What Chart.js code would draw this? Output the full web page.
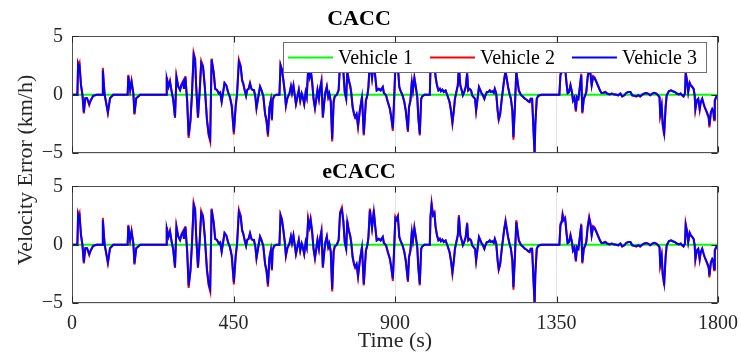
<!DOCTYPE html>
<html>
<head>
<meta charset="utf-8">
<script src="https://cdn.jsdelivr.net/npm/chart.js@4.4.1/dist/chart.umd.min.js"></script>
<style>
    html, body { margin: 0; padding: 0; background: #fff; }
    #wrap { position: relative; width: 741px; height: 354px; }
    #wrap canvas { position: absolute; left: 0; top: 0; }
</style>
</head>
<body>
<div id="wrap">
    <canvas id="caccChart" width="741" height="354"></canvas>
    <canvas id="ecaccChart" width="741" height="354"></canvas>
</div>
<script>
// sample times (s), shared by every follower trace
const time = [
    0, 15, 17, 19, 21, 25, 29, 33, 37, 42,
    48, 52, 59, 69, 84, 86, 88, 91, 100, 106,
    115, 155, 157, 162, 166, 171, 174, 179, 190, 262,
    264, 269, 273, 278, 282, 287, 291, 296, 301, 305,
    310, 312, 316, 321, 325, 330, 334, 339, 343, 346,
    351, 356, 360, 365, 370, 376, 381, 385, 389, 395,
    399, 404, 409, 413, 417, 421, 425, 430, 435, 440,
    445, 451, 456, 460, 465, 470, 474, 477, 481, 485,
    488, 492, 496, 500, 503, 507, 511, 514, 519, 524,
    528, 533, 538, 542, 546, 550, 554, 557, 559, 563,
    570, 578, 581, 585, 589, 593, 596, 600, 606, 610,
    613, 617, 621, 624, 628, 632, 636, 640, 643, 647,
    651, 654, 658, 662, 665, 669, 673, 677, 680, 684,
    688, 691, 695, 699, 703, 706, 710, 714, 717, 721,
    725, 729, 732, 738, 743, 747, 752, 756, 760, 764,
    767, 771, 775, 778, 782, 786, 789, 793, 797, 802,
    808, 813, 819, 823, 826, 830, 836, 841, 845, 849,
    855, 860, 866, 869, 875, 880, 886, 890, 894, 897,
    901, 904, 908, 912, 915, 921, 926, 930, 936, 939,
    943, 947, 950, 954, 958, 962, 965, 969, 973, 976,
    982, 997, 999, 1002, 1006, 1010, 1013, 1017, 1021, 1025,
    1028, 1032, 1036, 1041, 1047, 1052, 1056, 1060, 1064, 1067,
    1071, 1075, 1078, 1082, 1086, 1089, 1093, 1097, 1101, 1104,
    1108, 1112, 1115, 1119, 1123, 1126, 1130, 1134, 1138, 1141,
    1145, 1149, 1152, 1156, 1160, 1164, 1167, 1171, 1175, 1178,
    1182, 1186, 1189, 1193, 1197, 1201, 1204, 1208, 1212, 1215,
    1219, 1223, 1227, 1230, 1234, 1238, 1241, 1245, 1249, 1252,
    1256, 1262, 1267, 1271, 1275, 1278, 1282, 1286, 1289, 1291,
    1295, 1299, 1308, 1358, 1361, 1365, 1367, 1370, 1374, 1378,
    1381, 1385, 1389, 1393, 1396, 1400, 1404, 1407, 1411, 1415,
    1419, 1422, 1426, 1430, 1433, 1437, 1441, 1445, 1448, 1452,
    1456, 1459, 1463, 1467, 1471, 1475, 1480, 1486, 1491, 1498,
    1504, 1509, 1517, 1522, 1528, 1533, 1539, 1544, 1550, 1556,
    1561, 1567, 1572, 1578, 1583, 1589, 1595, 1600, 1605, 1611,
    1617, 1622, 1628, 1633, 1637, 1639, 1643, 1646, 1650, 1654,
    1657, 1663, 1669, 1674, 1680, 1685, 1691, 1696, 1700, 1704,
    1708, 1710, 1713, 1717, 1721, 1724, 1728, 1732, 1735, 1737,
    1741, 1745, 1749, 1752, 1756, 1760, 1763, 1767, 1771, 1774,
    1776, 1780, 1784, 1787, 1789, 1791, 1795, 1797, 1800
];

// leader keeps zero error over the whole run
const leaderTime = [0, 1800];
const vehicle1 = [0, 0];

// CACC, vehicle 2 (km/h)
const caccV2 = [
    0, 0, 2.7, 2.5, 2.7, 0.9, 0, -1.6, -0.3, -0.3,
    -0.9, -0.5, -0.1, 0, 0, 2.3, 1.3, 0, -1.6, -0.3,
    0, 0, 1.7, 0.4, 1.2, 0.1, -1.7, -0.3, 0, 0,
    1.5, 0.7, 1.2, 0.2, -0.4, -2.0, 1.6, 0.7, 0.4, 0.9,
    1.2, 0.5, 1.6, -0.6, -3.7, -2.3, -0.1, 3.6, 3.1, 0.7,
    -2.0, 0.4, 2.9, 2.5, 0.7, -2.2, -3.5, -4.0, 3.1, 1.9,
    0.5, 0.4, 0.1, 0.2, -0.6, 0.2, 1.0, 0.8, 0.2, -0.2,
    -1.0, -3.4, -1.0, 0.1, 3.0, 2.5, 1.3, 1.0, 0.4, -0.1,
    0.4, 0.5, 1.0, 0.5, 0.4, 0.4, -0.2, -1.2, -0.2, 0.7,
    0.4, -0.1, -1.7, -2.3, -3.6, -1.2, -0.5, -2.2, -0.5, -0.1,
    0, 0, 2.6, 2.2, 1.3, 0.2, -1.0, -0.3, 0.1, 0.7,
    0.15, 0.8, -0.1, -0.8, -0.2, 0.4, -0.5, 0.1, -0.2, -0.8,
    0.2, -0.2, 2.3, 1.6, 2.2, 1.2, -0.35, -1.2, -0.5, 0.4,
    -0.35, 0.5, 1.2, -2.0, -0.6, 0.2, 0.7, -0.2, 0.1, -0.6,
    -4.0, -0.6, -0.15, 0, 0.4, 2.8, 3.2, 2.1, 0.2, -0.35,
    2.1, 1.3, 0.8, 0.2, -1.1, -1.75, -2.0, -1.75, -2.8, -1.4,
    -0.2, -3.5, -0.5, -0.05, 0.66, 3.1, 1.5, 3.0, 1.6, 0.37,
    0.5, 0.37, 0.66, 0.15, -0.05, -0.63, -1.3, -2.1, -3.1, -0.8,
    2.4, 2.2, 2.5, 0.66, 0.37, -0.05, -0.63, -1.4, -3.2, -1.1,
    -0.5, 1.2, 0.37, 1.5, 0.66, -0.2, -2.0, -3.5, -0.35, -0.15,
    0, 0, 2.5, 3.6, 2.6, 2.8, 1.6, 0.8, 0.37, 0.5,
    0.3, 0.43, 0.23, 0.37, -0.15, -0.63, -1.4, -2.5, -1.4, -0.35,
    0.23, 0.8, 2.55, 0.8, 0.37, -0.05, 0.23, 0.66, 1.9, 0.37,
    0.5, 0.37, -0.05, -0.2, -0.35, -1.4, -0.35, 0.66, 0.37, 0.15,
    -0.05, -0.35, -0.05, 0.23, 0.23, 0.37, 0.23, 0.3, 0.15, 0.5,
    0.1, -1.4, -2.2, -1.75, -0.5, 0.5, 1.3, 2.1, 1.3, 0.66,
    0.1, -0.35, -1.4, -3.85, -1.1, 2.1, 1.3, 0.37, 0.1, -0.05,
    -0.15, -0.35, -0.43, -0.55, -0.63, -0.35, -0.35, -3.2, -5.2, -2.6,
    -0.35, -0.1, 0, 0, 1.8, 2.1, 2.65, 2.2, 2.35, 1.0,
    0.15, 0.23, 0.85, 0.23, -0.5, -0.25, -1.45, -0.2, -0.35, 0.66,
    1.8, -1.6, -0.35, -0.05, 0.23, 1.6, 2.4, 1.8, 0.85, 1.6,
    1.5, 1.3, 1.0, 0.7, 0.37, 0.17, 0.15, 0.23, 0.1, 0.03,
    0.1, 0.03, 0, -0.05, 0.1, -0.15, -0.05, 0.15, 0.23, 0.23,
    -0.05, -0.1, -0.15, -0.05, -0.15, 0, 0.1, 0.15, 0.1, -0.05,
    0.1, 0.17, 0.1, -0.05, -0.2, -1.75, -1.0, -2.65, -3.5, -1.1,
    -0.05, 0.3, 0.37, 0.3, 0.23, 0.1, 0.03, 0.1, -0.05, -0.15,
    0.1, 1.95, 1.4, 0.23, 1.05, 0.85, 0.7, 0.5, -0.05, -1.3,
    -0.5, -0.35, -1.3, -0.63, -0.35, -0.8, -1.1, -1.4, -1.75, -2.0,
    -2.8, -1.6, -1.3, -1.45, -2.2, -0.5, -0.2, -0.15, -0.1
];

// CACC, vehicle 3 (km/h)
const caccV3 = [
    0, 0, 2.6, 2.4, 2.5, 0.8, 0, -1.5, -0.3, -0.3,
    -0.8, -0.5, -0.1, 0, 0, 2.1, 1.2, 0, -1.5, -0.3,
    0, 0, 1.6, 0.4, 1.1, 0.1, -1.6, -0.3, 0, 0,
    1.4, 0.7, 1.1, 0.2, -0.4, -1.9, 1.5, 0.7, 0.4, 0.8,
    1.1, 0.5, 1.5, -0.6, -3.5, -2.2, -0.1, 3.4, 3.0, 0.7,
    -1.9, 0.4, 2.7, 2.4, 0.7, -2.1, -3.4, -3.8, 3.0, 1.8,
    0.5, 0.4, 0.1, 0.2, -0.6, 0.2, 1.0, 0.8, 0.2, -0.2,
    -0.9, -3.2, -1.0, 0.1, 2.8, 2.4, 1.2, 0.95, 0.4, -0.1,
    0.4, 0.5, 0.95, 0.5, 0.4, 0.4, -0.2, -1.1, -0.2, 0.7,
    0.4, -0.1, -1.6, -2.2, -3.4, -1.1, -0.5, -2.1, -0.5, -0.1,
    0, 0, 2.5, 2.1, 1.2, 0.2, -0.9, -0.3, 0.1, 0.7,
    0.15, 0.8, -0.1, -0.8, -0.2, 0.4, -0.5, 0.1, -0.2, -0.8,
    0.2, -0.2, 2.1, 1.5, 2.1, 1.1, -0.35, -1.1, -0.5, 0.4,
    -0.35, 0.5, 1.1, -1.9, -0.6, 0.2, 0.7, -0.2, 0.1, -0.6,
    -3.8, -0.6, -0.15, 0, 0.4, 2.7, 3.0, 2.0, 0.2, -0.35,
    1.95, 1.24, 0.8, 0.2, -1.06, -1.64, -1.9, -1.64, -2.64, -1.35,
    -0.2, -3.36, -0.5, -0.05, 0.66, 2.96, 1.4, 2.8, 1.5, 0.37,
    0.5, 0.37, 0.66, 0.15, -0.05, -0.63, -1.2, -2.0, -2.9, -0.8,
    2.24, 2.1, 2.4, 0.66, 0.37, -0.05, -0.63, -1.35, -3.07, -1.06,
    -0.5, 1.1, 0.37, 1.4, 0.66, -0.2, -1.9, -3.36, -0.35, -0.15,
    0, 0, 2.4, 3.4, 2.5, 2.67, 1.5, 0.8, 0.37, 0.5,
    0.3, 0.43, 0.23, 0.37, -0.15, -0.63, -1.35, -2.36, -1.35, -0.35,
    0.23, 0.8, 2.4, 0.8, 0.37, -0.05, 0.23, 0.66, 1.8, 0.37,
    0.5, 0.37, -0.05, -0.2, -0.35, -1.35, -0.35, 0.66, 0.37, 0.15,
    -0.05, -0.35, -0.05, 0.23, 0.23, 0.37, 0.23, 0.3, 0.15, 0.5,
    0.1, -1.35, -2.07, -1.64, -0.5, 0.5, 1.24, 1.95, 1.24, 0.66,
    0.1, -0.35, -1.35, -3.65, -1.06, 1.95, 1.24, 0.37, 0.1, -0.05,
    -0.15, -0.35, -0.43, -0.55, -0.63, -0.35, -0.35, -3.07, -5.0, -2.5,
    -0.35, -0.1, 0, 0, 1.67, 1.95, 2.5, 2.1, 2.24, 0.95,
    0.15, 0.23, 0.8, 0.23, -0.5, -0.25, -1.35, -0.2, -0.35, 0.66,
    1.67, -1.5, -0.35, -0.05, 0.23, 1.5, 2.24, 1.67, 0.8, 1.5,
    1.4, 1.24, 0.95, 0.66, 0.37, 0.17, 0.15, 0.23, 0.1, 0.03,
    0.1, 0.03, 0, -0.05, 0.1, -0.15, -0.05, 0.15, 0.23, 0.23,
    -0.05, -0.1, -0.15, -0.05, -0.15, 0, 0.1, 0.15, 0.1, -0.05,
    0.1, 0.17, 0.1, -0.05, -0.2, -1.64, -0.92, -2.5, -3.3, -1.06,
    -0.05, 0.3, 0.37, 0.3, 0.23, 0.1, 0.03, 0.1, -0.05, -0.15,
    0.1, 1.8, 1.3, 0.23, 1.0, 0.8, 0.66, 0.5, -0.05, -1.2,
    -0.5, -0.35, -1.2, -0.63, -0.35, -0.78, -1.06, -1.35, -1.64, -1.9,
    -2.64, -1.5, -1.2, -1.35, -2.07, -0.5, -0.2, -0.15, -0.1
];

// eCACC, vehicle 2 (km/h)
const ecaccV2 = [
    0, 0, 2.7, 2.5, 2.7, 0.9, 0, -1.6, -0.3, -0.3,
    -0.9, -0.5, -0.1, 0, 0, 2.3, 1.3, 0, -1.6, -0.3,
    0, 0, 1.7, 0.4, 1.2, 0.1, -1.7, -0.3, 0, 0,
    1.5, 0.7, 1.2, 0.2, -0.4, -2.0, 1.6, 0.7, 0.4, 0.9,
    1.2, 0.5, 1.6, -0.6, -3.7, -2.3, -0.1, 3.6, 3.1, 0.7,
    -2.0, 0.4, 2.9, 2.5, 0.7, -2.2, -3.5, -4.0, 3.1, 1.9,
    0.5, 0.4, 0.1, 0.2, -0.6, 0.2, 1.0, 0.8, 0.2, -0.2,
    -1.0, -3.4, -1.0, 0.1, 3.0, 2.5, 1.3, 1.0, 0.4, -0.1,
    0.4, 0.5, 1.0, 0.5, 0.4, 0.4, -0.2, -1.2, -0.2, 0.7,
    0.4, -0.1, -1.7, -2.3, -3.6, -1.2, -0.5, -2.2, -0.5, -0.1,
    0, 0, 2.6, 2.2, 1.3, 0.2, -1.0, -0.3, 0.1, 0.7,
    0.15, 0.8, -0.1, -0.8, -0.2, 0.4, -0.5, 0.1, -0.2, -0.8,
    0.2, -0.2, 2.3, 1.6, 2.2, 1.2, -0.35, -1.2, -0.5, 0.4,
    -0.35, 0.5, 1.2, -2.0, -0.6, 0.2, 0.7, -0.2, 0.1, -0.6,
    -4.0, -0.6, -0.15, 0, 0.4, 2.8, 3.2, 2.1, 0.2, -0.35,
    2.1, 1.3, 0.8, 0.2, -1.1, -1.75, -2.0, -1.75, -2.8, -1.4,
    -0.2, -3.5, -0.5, -0.05, 0.66, 3.1, 1.5, 3.0, 1.6, 0.37,
    0.5, 0.37, 0.66, 0.15, -0.05, -0.63, -1.3, -2.1, -3.1, -0.8,
    2.4, 2.2, 2.5, 0.66, 0.37, -0.05, -0.63, -1.4, -3.2, -1.1,
    -0.5, 1.2, 0.37, 1.5, 0.66, -0.2, -2.0, -3.5, -0.35, -0.15,
    0, 0, 2.5, 3.6, 2.6, 2.8, 1.6, 0.8, 0.37, 0.5,
    0.3, 0.43, 0.23, 0.37, -0.15, -0.63, -1.4, -2.5, -1.4, -0.35,
    0.23, 0.8, 2.55, 0.8, 0.37, -0.05, 0.23, 0.66, 1.9, 0.37,
    0.5, 0.37, -0.05, -0.2, -0.35, -1.4, -0.35, 0.66, 0.37, 0.15,
    -0.05, -0.35, -0.05, 0.23, 0.23, 0.37, 0.23, 0.3, 0.15, 0.5,
    0.1, -1.4, -2.2, -1.75, -0.5, 0.5, 1.3, 2.1, 1.3, 0.66,
    0.1, -0.35, -1.4, -3.85, -1.1, 2.1, 1.3, 0.37, 0.1, -0.05,
    -0.15, -0.35, -0.43, -0.55, -0.63, -0.35, -0.35, -3.2, -5.2, -2.6,
    -0.35, -0.1, 0, 0, 1.8, 2.1, 2.65, 2.2, 2.35, 1.0,
    0.15, 0.23, 0.85, 0.23, -0.5, -0.25, -1.45, -0.2, -0.35, 0.66,
    1.8, -1.6, -0.35, -0.05, 0.23, 1.6, 2.4, 1.8, 0.85, 1.6,
    1.5, 1.3, 1.0, 0.7, 0.37, 0.17, 0.15, 0.23, 0.1, 0.03,
    0.1, 0.03, 0, -0.05, 0.1, -0.15, -0.05, 0.15, 0.23, 0.23,
    -0.05, -0.1, -0.15, -0.05, -0.15, 0, 0.1, 0.15, 0.1, -0.05,
    0.1, 0.17, 0.1, -0.05, -0.2, -1.75, -1.0, -2.65, -3.5, -1.1,
    -0.05, 0.3, 0.37, 0.3, 0.23, 0.1, 0.03, 0.1, -0.05, -0.15,
    0.1, 1.8, 1.3, 0.23, 1.05, 0.85, 0.7, 0.5, -0.05, -1.3,
    -0.5, -0.35, -1.3, -0.63, -0.35, -0.8, -1.1, -1.4, -1.75, -2.0,
    -2.8, -1.6, -1.3, -1.45, -2.2, -0.5, -0.2, -0.15, -0.1
];

// eCACC, vehicle 3 (km/h)
const ecaccV3 = [
    0, 0, 2.6, 2.4, 2.5, 0.8, 0, -1.5, -0.3, -0.3,
    -0.8, -0.5, -0.1, 0, 0, 2.1, 1.2, 0, -1.5, -0.3,
    0, 0, 1.6, 0.4, 1.1, 0.1, -1.6, -0.3, 0, 0,
    1.4, 0.7, 1.1, 0.2, -0.4, -1.9, 1.5, 0.7, 0.4, 0.8,
    1.1, 0.5, 1.5, -0.6, -3.5, -2.2, -0.1, 3.4, 3.0, 0.7,
    -1.9, 0.4, 2.7, 2.4, 0.7, -2.1, -3.4, -3.8, 3.0, 1.8,
    0.5, 0.4, 0.1, 0.2, -0.6, 0.2, 1.0, 0.8, 0.2, -0.2,
    -0.9, -3.2, -1.0, 0.1, 2.8, 2.4, 1.2, 0.95, 0.4, -0.1,
    0.4, 0.5, 0.95, 0.5, 0.4, 0.4, -0.2, -1.1, -0.2, 0.7,
    0.4, -0.1, -1.6, -2.2, -3.4, -1.1, -0.5, -2.1, -0.5, -0.1,
    0, 0, 2.5, 2.1, 1.2, 0.2, -0.9, -0.3, 0.1, 0.7,
    0.15, 0.8, -0.1, -0.8, -0.2, 0.4, -0.5, 0.1, -0.2, -0.8,
    0.2, -0.2, 2.1, 1.5, 2.1, 1.1, -0.35, -1.1, -0.5, 0.4,
    -0.35, 0.5, 1.1, -1.9, -0.6, 0.2, 0.7, -0.2, 0.1, -0.6,
    -3.8, -0.6, -0.15, 0, 0.4, 2.7, 3.0, 2.0, 0.2, -0.35,
    1.95, 1.24, 0.8, 0.2, -1.06, -1.64, -1.9, -1.64, -2.64, -1.35,
    -0.2, -3.36, -0.5, -0.05, 0.66, 2.96, 1.4, 2.8, 1.5, 0.37,
    0.5, 0.37, 0.66, 0.15, -0.05, -0.63, -1.2, -2.0, -2.9, -0.8,
    2.24, 2.1, 2.4, 0.66, 0.37, -0.05, -0.63, -1.35, -3.07, -1.06,
    -0.5, 1.1, 0.37, 1.4, 0.66, -0.2, -1.9, -3.36, -0.35, -0.15,
    0, 0, 2.4, 3.4, 2.5, 2.67, 1.5, 0.8, 0.37, 0.5,
    0.3, 0.43, 0.23, 0.37, -0.15, -0.63, -1.35, -2.36, -1.35, -0.35,
    0.23, 0.8, 2.4, 0.8, 0.37, -0.05, 0.23, 0.66, 1.8, 0.37,
    0.5, 0.37, -0.05, -0.2, -0.35, -1.35, -0.35, 0.66, 0.37, 0.15,
    -0.05, -0.35, -0.05, 0.23, 0.23, 0.37, 0.23, 0.3, 0.15, 0.5,
    0.1, -1.35, -2.07, -1.64, -0.5, 0.5, 1.24, 1.95, 1.24, 0.66,
    0.1, -0.35, -1.35, -3.65, -1.06, 1.95, 1.24, 0.37, 0.1, -0.05,
    -0.15, -0.35, -0.43, -0.55, -0.63, -0.35, -0.35, -3.07, -5.0, -2.5,
    -0.35, -0.1, 0, 0, 1.67, 1.95, 2.5, 2.1, 2.24, 0.95,
    0.15, 0.23, 0.8, 0.23, -0.5, -0.25, -1.35, -0.2, -0.35, 0.66,
    1.67, -1.5, -0.35, -0.05, 0.23, 1.5, 2.24, 1.67, 0.8, 1.5,
    1.4, 1.24, 0.95, 0.66, 0.37, 0.17, 0.15, 0.23, 0.1, 0.03,
    0.1, 0.03, 0, -0.05, 0.1, -0.15, -0.05, 0.15, 0.23, 0.23,
    -0.05, -0.1, -0.15, -0.05, -0.15, 0, 0.1, 0.15, 0.1, -0.05,
    0.1, 0.17, 0.1, -0.05, -0.2, -1.64, -0.92, -2.5, -3.3, -1.06,
    -0.05, 0.3, 0.37, 0.3, 0.23, 0.1, 0.03, 0.1, -0.05, -0.15,
    0.1, 1.67, 1.24, 0.23, 1.0, 0.8, 0.66, 0.5, -0.05, -1.2,
    -0.5, -0.35, -1.2, -0.63, -0.35, -0.78, -1.06, -1.35, -1.64, -1.9,
    -2.64, -1.5, -1.2, -1.35, -2.07, -0.5, -0.2, -0.15, -0.1
];

const xTicks = [0, 450, 900, 1350, 1800];
const yTicks = [-5, 0, 5];
const seriesLabels = ['Vehicle 1', 'Vehicle 2', 'Vehicle 3'];
const seriesColors = ['#00ff00', '#ff0000', '#0000ff'];

const SERIF = '"Liberation Serif", "Times New Roman", serif';
const INK = '#262626';

function toPoints(xs, ys) {
    return xs.map((t, i) => ({ x: t, y: ys[i] }));
}

// box outline plus the inward tick marks
const frameTicks = {
    id: 'frameTicks',
    afterDraw(chart) {
        const { ctx, chartArea: a, scales } = chart;
        const L = Math.round(a.left) + 0.5, R = Math.round(a.right) - 0.5;
        const T = Math.round(a.top) + 0.5, B = Math.round(a.bottom) - 0.5;
        ctx.save();
        ctx.strokeStyle = '#505050';
        ctx.lineWidth = 1;
        ctx.strokeRect(L, T, R - L, B - T);
        ctx.strokeStyle = INK;
        ctx.beginPath();
        xTicks.forEach(v => {
            const px = Math.round(scales.x.getPixelForValue(v)) + 0.5;
            ctx.moveTo(px, T); ctx.lineTo(px, T + 6);
            ctx.moveTo(px, B); ctx.lineTo(px, B - 6);
        });
        yTicks.forEach(v => {
            const py = Math.round(scales.y.getPixelForValue(v)) + 0.5;
            ctx.moveTo(L, py); ctx.lineTo(L + 6, py);
            ctx.moveTo(R, py); ctx.lineTo(R - 6, py);
        });
        ctx.stroke();
        ctx.restore();
    }
};

// single-row legend with a border, sitting inside the upper right of the plot
const boxedLegend = {
    id: 'boxedLegend',
    afterDatasetsDraw(chart, args, opts) {
        if (!opts.display) return;
        const { ctx, chartArea: a } = chart;
        const items = chart.data.datasets;
        const lineLen = 45, gap = 5, between = 17, padL = 5, padR = 9, h = 30;
        ctx.save();
        ctx.font = `20px ${SERIF}`;
        const widths = items.map(d => ctx.measureText(d.label).width);
        const total = padL + padR + widths.reduce((s, w) => s + lineLen + gap + w, 0) + between * (items.length - 1);
        const right = a.right - 12;
        const left = Math.round(right - total);
        const top = Math.round(a.top + 6);
        ctx.fillStyle = '#fff';
        ctx.fillRect(left, top, right - left, h);
        ctx.strokeStyle = '#6e6e6e';
        ctx.lineWidth = 1;
        ctx.strokeRect(left + 0.5, top + 0.5, Math.round(right - left), h);
        const cy = top + h / 2 + 0.5;
        let x = left + padL;
        items.forEach((d, i) => {
            ctx.strokeStyle = d.borderColor;
            ctx.lineWidth = 2;
            ctx.beginPath();
            ctx.moveTo(x, cy);
            ctx.lineTo(x + lineLen, cy);
            ctx.stroke();
            x += lineLen + gap;
            ctx.fillStyle = '#000';
            ctx.textBaseline = 'middle';
            ctx.fillText(d.label, x, cy + 1);
            x += widths[i] + between;
        });
        ctx.restore();
    }
};

// one y-axis caption shared by both panels
const sharedYTitle = {
    id: 'sharedYTitle',
    afterDraw(chart, args, opts) {
        if (!opts.text) return;
        const { ctx } = chart;
        ctx.save();
        ctx.translate(opts.x, opts.y);
        ctx.rotate(-Math.PI / 2);
        ctx.font = `22px ${SERIF}`;
        ctx.fillStyle = INK;
        ctx.textAlign = 'center';
        ctx.textBaseline = 'middle';
        ctx.fillText(opts.text, 0, 0);
        ctx.restore();
    }
};

function makePanel(canvasId, title, v2, v3, cfg) {
    const datasets = [
        { label: seriesLabels[0], data: toPoints(leaderTime, vehicle1), borderColor: seriesColors[0], order: 3 },
        { label: seriesLabels[1], data: toPoints(time, v2), borderColor: seriesColors[1], order: 2 },
        { label: seriesLabels[2], data: toPoints(time, v3), borderColor: seriesColors[2], order: 1 }
    ];
    return new Chart(document.getElementById(canvasId), {
        type: 'line',
        data: { datasets },
        plugins: [frameTicks, boxedLegend, sharedYTitle],
        options: {
            responsive: false,
            animation: false,
            layout: { padding: { left: 0, right: 23, top: cfg.padTop, bottom: cfg.padBottom } },
            elements: {
                line: { borderWidth: 2, tension: 0, fill: false },
                point: { radius: 0, hitRadius: 0 }
            },
            scales: {
                x: {
                    type: 'linear',
                    min: 0,
                    max: 1800,
                    afterBuildTicks: s => { s.ticks = xTicks.map(v => ({ value: v })); },
                    afterFit: s => {
                        s.height = cfg.xHeight;
                        s.paddingLeft = 0;
                        s.paddingRight = 0;
                    },
                    grid: { color: '#e4e4e4', drawTicks: false },
                    border: { display: false },
                    ticks: {
                        display: cfg.showX,
                        padding: 9,
                        color: INK,
                        maxRotation: 0,
                        font: { family: SERIF, size: 20 },
                        callback: v => String(v)
                    },
                    title: {
                        display: cfg.showX,
                        text: 'Time (s)',
                        color: INK,
                        padding: { top: 0, bottom: 0 },
                        font: { family: SERIF, size: 22 }
                    }
                },
                y: {
                    min: -5,
                    max: 5,
                    afterBuildTicks: s => { s.ticks = yTicks.map(v => ({ value: v })); },
                    afterFit: s => { s.width = 72; },
                    grid: { color: '#e4e4e4', drawTicks: false },
                    border: { display: false },
                    ticks: {
                        padding: 9,
                        color: INK,
                        font: { family: SERIF, size: 20 },
                        callback: v => v < 0 ? '\u2212' + Math.abs(v) : String(v)
                    }
                }
            },
            plugins: {
                legend: { display: false },
                tooltip: { enabled: false },
                title: {
                    display: true,
                    text: title,
                    color: '#000',
                    padding: { top: 0, bottom: cfg.titleGap },
                    font: { family: SERIF, size: 22, weight: 'bold' }
                },
                boxedLegend: { display: cfg.legend },
                sharedYTitle: cfg.yTitle
            }
        }
    });
}

makePanel('caccChart', 'CACC', caccV2, caccV3, {
    padTop: 6, padBottom: 201, xHeight: 0, showX: false, legend: true, titleGap: 4, yTitle: {}
});
makePanel('ecaccChart', 'eCACC', ecaccV2, ecaccV3, {
    padTop: 159, padBottom: 0, xHeight: 51, showX: true, legend: false, titleGap: 1,
    yTitle: { text: 'Velocity Error (km/h)', x: 26, y: 170 }
});
</script>
</body>
</html>
